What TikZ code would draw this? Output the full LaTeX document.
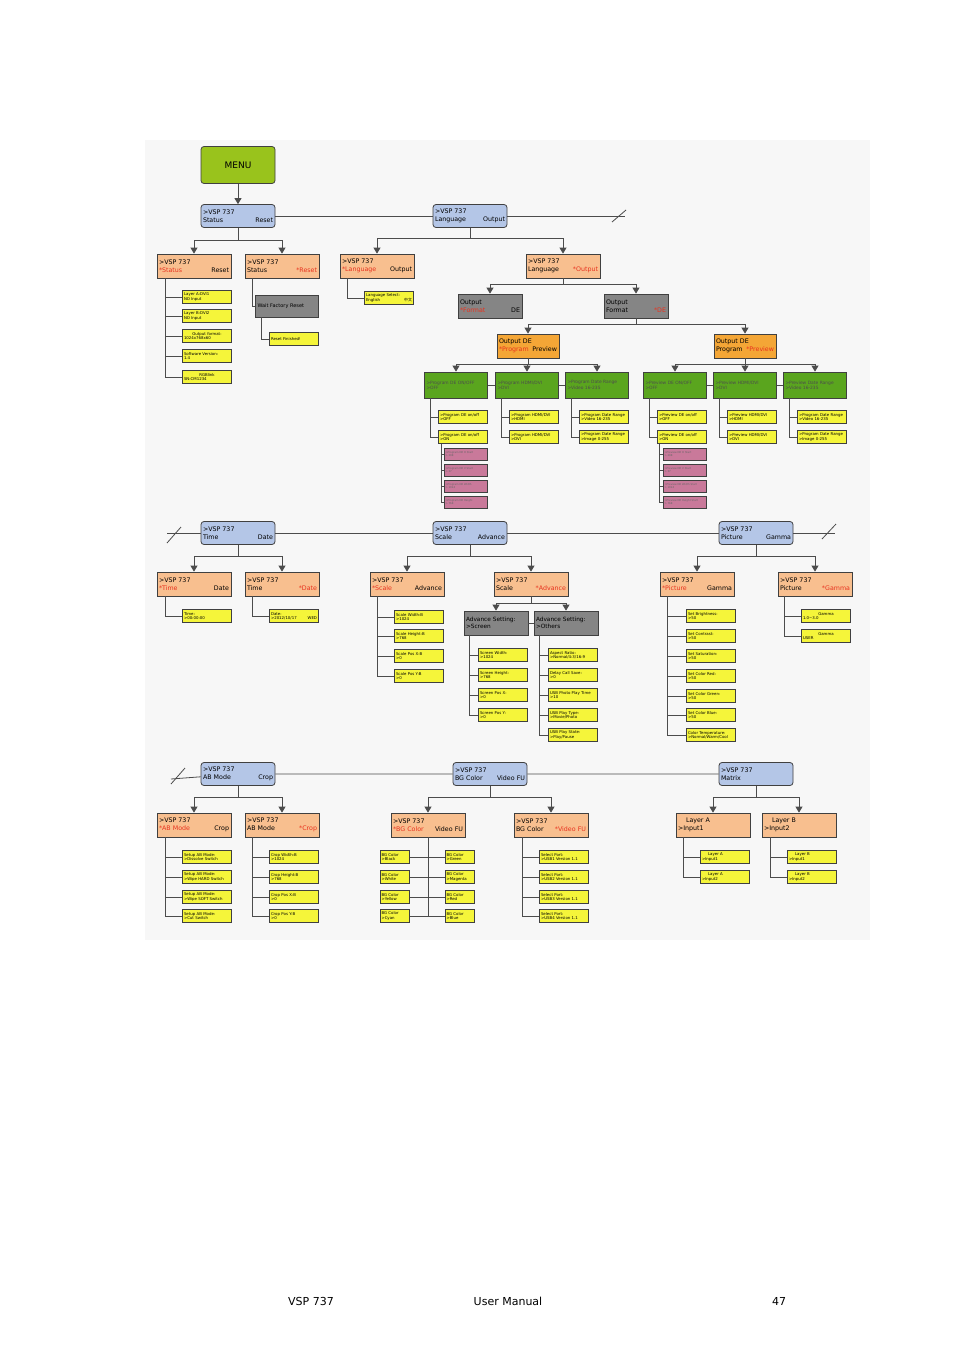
\documentclass[tikz,border=0pt]{standalone}
\usepackage{fontspec}
\setmainfont{DejaVu Sans}
\newfontfamily\cjk{Noto Sans CJK SC}
\usetikzlibrary{arrows.meta}
\definecolor{menugreen}{HTML}{99C31C}
\definecolor{menublue}{HTML}{B4C6E7}
\definecolor{salmon}{HTML}{F8BF8F}
\definecolor{boxgrey}{HTML}{858585}
\definecolor{deorange}{HTML}{F4A636}
\definecolor{degreen}{HTML}{5AA51E}
\definecolor{lcdyellow}{HTML}{F5F53A}
\definecolor{pinkish}{HTML}{C9799A}
\definecolor{txtred}{HTML}{E8321E}
\newcommand{\rd}[1]{\textcolor{txtred}{#1}}
\tikzset{
  >={Triangle[width=7pt,length=6pt]},
  big/.style={draw=black!75, line width=0.8pt, align=left, inner sep=2pt, font=\fontsize{6.3}{7.6}\selectfont},
  menubox/.style={big, fill=menugreen, rounded corners=3pt, minimum width=74pt, minimum height=37pt, align=center, font=\fontsize{9}{10}\selectfont},
  bluebox/.style={big, fill=menublue, rounded corners=3pt, text width=70pt, minimum height=23pt},
  salbox/.style={big, fill=salmon, text width=70pt, minimum height=24pt},
  greybox/.style={big, fill=boxgrey, text width=60pt, minimum height=24pt},
  orbox/.style={big, fill=deorange, text width=58pt, minimum height=24pt},
  grbox/.style={big, fill=degreen, text width=59pt, minimum height=26pt, font=\fontsize{4.4}{5.2}\selectfont, text=black!70},
  ybox/.style={draw=black!75, line width=0.7pt, fill=lcdyellow, text width=46pt, minimum height=13pt, inner sep=1.3pt, align=left, font=\fontsize{3.9}{4.5}\selectfont},
  pbox/.style={draw=black!75, line width=0.7pt, fill=pinkish, text width=41pt, minimum height=12pt, inner sep=1.3pt, align=left, font=\fontsize{2.6}{3.1}\selectfont, text=black!60},
  tline/.style={draw=black!70, line width=0.8pt},
  arr/.style={tline, ->}
}
\begin{document}
\begin{tikzpicture}[x=1pt,y=-1pt]
  \useasboundingbox (0,0) rectangle (954,1350);
  \fill[black!3] (145,140) rectangle (870,940);
  % top row
  \node[menubox] (menu) at (238,165) {MENU};
  \node[bluebox] (status) at (238,216) {>VSP 737\\*Status\hfill Reset};
  \node[bluebox] (lang) at (470,216) {>VSP 737\\*Language\hfill Output};
  \coordinate (end1) at (625,216);
  \draw[arr] (menu) -- (status);
  \draw[tline] (status) -- (lang) -- (end1);
  \draw[tline] (612,222) -- (626,210);
  \node[salbox] (st1) at (194,266) {>VSP 737\\\rd{*Status}\hfill Reset};
  \node[salbox] (st2) at (282,266) {>VSP 737\\Status\hfill\rd{*Reset}};
  \node[salbox] (la1) at (377,266) {>VSP 737\\\rd{*Language}\hfill Output};
  \node[salbox] (la2) at (563,266) {>VSP 737\\Language\hfill\rd{*Output}};
  \draw[arr] (status.south) -- ++(0,12) -| (st1.north);
  \draw[arr] (status.south) -- ++(0,12) -| (st2.north);
  \draw[arr] (lang.south) -- ++(0,10) -| (la1.north);
  \draw[arr] (lang.south) -- ++(0,10) -| (la2.north);
  \foreach \y/\t [count=\i] in {297/{Layer A:DVI1\\NO Input}, 316/{Layer B:DVI2\\NO Input},
      336/{\centering Output format:\\1024x768x60}, 356/{Software Version:\\1.4}, 377/{\centering RGBlink\\SN:CM1234}} {
    \node[ybox] (sty\i) at (207,\y) {\t};
    \draw[tline] (st1.south west) ++(9,0) |- (sty\i.west);
  }
  \node[greybox, text width=59pt, minimum height=22pt, font=\fontsize{5}{6}\selectfont] (wait) at (287,306) {Wait Factory Reset};
  \draw[tline] (st2.south west) ++(8,0) |- (wait.west);
  \node[ybox] (fin) at (294,339) {\centering Reset Finished!};
  \draw[tline] (wait.south west) ++(6,0) |- (fin.west);
  \node[ybox] (lsel) at (389,298) {Language Select:\\*English\hfill{\cjk 中文}\hspace*{8pt}};
  \draw[tline] (la1.south west) ++(8,0) |- (lsel.west);
  % output DE
  \node[greybox] (fmt1) at (490,306) {Output\\\rd{*Format}\hfill DE\hspace*{8pt}};
  \node[greybox] (fmt2) at (636,306) {Output\\Format\hfill\rd{*DE}\hspace*{4pt}};
  \draw[arr] (la2.south) -- ++(0,6) -| (fmt1.north);
  \draw[arr] (la2.south) -- ++(0,6) -| (fmt2.north);
  \node[orbox] (prg) at (528,346) {Output DE\\\rd{*Program}\hfill Preview};
  \node[orbox] (prv) at (745,346) {Output DE\\Program\hfill\rd{*Preview}};
  \draw[arr] (fmt2.south) -- ++(0,6) -| (prg.north);
  \draw[arr] (fmt2.south) -- ++(0,6) -| (prv.north);
  \node[grbox] (g1) at (456,385) {>Program DE ON/OFF\\>OFF};
  \node[grbox] (g2) at (527,385) {>Program HDMI/DVI\\>DVI};
  \node[grbox] (g3) at (597,385) {>Program Date Range\\>Video 16-235};
  \node[grbox] (g4) at (675,385) {>Preview DE ON/OFF\\>OFF};
  \node[grbox] (g5) at (745,385) {>Preview HDMI/DVI\\>DVI};
  \node[grbox] (g6) at (815,385) {>Preview Date Range\\>Video 16-235};
  \foreach \a/\b in {g1/g2, g2/g3, g4/g5, g5/g6} \draw[tline] (\a.east) -- (\b.west);
  \foreach \c in {g1,g2,g3} \draw[arr] (prg.south) -- ++(0,6) -| (\c.north);
  \foreach \c in {g4,g5,g6} \draw[arr] (prv.south) -- ++(0,6) -| (\c.north);
  \foreach \g/\x/\ta/\tb in {g1/463/{>Program DE on/off\\>OFF}/{>Program DE on/off\\>ON},
      g2/534/{>Program HDMI/DVI\\>HDMI}/{>Program HDMI/DVI\\>DVI},
      g3/604/{>Program Date Range\\>Video 16-235}/{>Program Date Range\\>Image 0-255},
      g4/682/{>Preview DE on/off\\>OFF}/{>Preview DE on/off\\>ON},
      g5/752/{>Preview HDMI/DVI\\>HDMI}/{>Preview HDMI/DVI\\>DVI},
      g6/822/{>Program Date Range\\>Video 16-235}/{>Program Date Range\\>Image 0-255}} {
    \node[ybox] (\g a) at (\x,417) {\ta};
    \node[ybox] (\g b) at (\x,437) {\tb};
    \draw[tline] (\g.south west) ++(6,0) |- (\g a.west);
    \draw[tline] (\g.south west) ++(6,0) |- (\g b.west);
  }
  \foreach \y/\t [count=\i] in {454/{>Program DE H Start\\> 298}, 470/{>Program DE V Start\\> 37},
      486/{>Program DE Width\\> 1024}, 502/{>Program DE Height\\> 768}} {
    \node[pbox] (pp\i) at (466,\y) {\t};
    \draw[tline] (g1b.south west) ++(3,0) |- (pp\i.west);
  }
  \foreach \y/\t [count=\i] in {454/{>Preview DE H Start\\> 298}, 470/{>Preview DE V Start\\> 37},
      486/{>Preview DE Width Start\\> 1024}, 502/{>Preview DE Height Start\\> 768}} {
    \node[pbox] (pv\i) at (685,\y) {\t};
    \draw[tline] (g4b.south west) ++(2,0) |- (pv\i.west);
  }
  % second row
  \coordinate (beg2) at (167,533);
  \coordinate (end2) at (835,533);
  \node[bluebox] (time) at (238,533) {>VSP 737\\*Time\hfill Date};
  \node[bluebox] (scale) at (470,533) {>VSP 737\\*Scale\hfill Advance};
  \node[bluebox] (pict) at (756,533) {>VSP 737\\*Picture\hfill Gamma};
  \draw[tline] (beg2) -- (time) -- (scale) -- (pict) -- (end2);
  \draw[tline] (167,543) -- (181,527);
  \draw[tline] (822,539) -- (836,524);
  \node[salbox] (ti1) at (194,584) {>VSP 737\\\rd{*Time}\hfill Date};
  \node[salbox] (ti2) at (282,584) {>VSP 737\\Time\hfill\rd{*Date}};
  \node[salbox] (sc1) at (407,584) {>VSP 737\\\rd{*Scale}\hfill Advance};
  \node[salbox] (sc2) at (531,584) {>VSP 737\\Scale\hfill\rd{*Advance}};
  \node[salbox] (pi1) at (697,584) {>VSP 737\\\rd{*Picture}\hfill Gamma};
  \node[salbox] (pi2) at (815,584) {>VSP 737\\Picture\hfill\rd{*Gamma}};
  \foreach \p/\c in {time/ti1, time/ti2, scale/sc1, scale/sc2, pict/pi1, pict/pi2}
    \draw[arr] (\p.south) -- ++(0,11) -| (\c.north);
  \node[ybox] (tiy) at (207,616) {Time:\\>00:00:00};
  \node[ybox] (day) at (294,616) {Date:\\>2012/10/17\hfill WED};
  \draw[tline] (ti1.south west) ++(9,0) |- (tiy.west);
  \draw[tline] (ti2.south west) ++(8,0) |- (day.west);
  \foreach \y/\t [count=\i] in {617/{Scale Width:B\\>1024}, 636/{Scale Height:B\\>768},
      656/{Scale Pos X:B\\>0}, 676/{Scale Pos Y:B\\>0}} {
    \node[ybox] (scy\i) at (419,\y) {\t};
    \draw[tline] (sc1.south west) ++(8,0) |- (scy\i.west);
  }
  \node[greybox, minimum height=24pt, font=\fontsize{5.8}{7}\selectfont] (scr) at (496,623) {Advance Setting:\\>Screen};
  \node[greybox, minimum height=24pt, font=\fontsize{5.8}{7}\selectfont] (oth) at (566,623) {Advance Setting:\\>Others};
  \draw[tline] (scr) -- (oth);
  \draw[arr] (sc2.south) -- ++(0,7) -| (scr.north);
  \draw[arr] (sc2.south) -- ++(0,7) -| (oth.north);
  \foreach \y/\t [count=\i] in {655/{Screen Width:\\>1024}, 675/{Screen Height:\\>768},
      695/{Screen Pos X:\\>0}, 715/{Screen Pos Y:\\>0}} {
    \node[ybox] (sry\i) at (503,\y) {\t};
    \draw[tline] (scr.south west) ++(6,0) |- (sry\i.west);
  }
  \foreach \y/\t [count=\i] in {655/{Aspect Ratio:\\>Normal/4:3/16:9}, 675/{Delay Call Save:\\>0},
      695/{USB Photo Play Time\\>10}, 715/{USB Play Type:\\>Movie/Photo}, 735/{USB Play State:\\>Play/Pause}} {
    \node[ybox] (oty\i) at (573,\y) {\t};
    \draw[tline] (oth.south west) ++(6,0) |- (oty\i.west);
  }
  \foreach \y/\t [count=\i] in {616/{Set Brightness:\\>50}, 636/{Set Contrast:\\>50}, 656/{Set Saturation:\\>50},
      676/{Set Color Red:\\>50}, 696/{Set Color Green:\\>50}, 715/{Set Color Blue:\\>50},
      735/{Color Temperature:\\>Normal/Warm/Cool}} {
    \node[ybox] (piy\i) at (711,\y) {\t};
    \draw[tline] (pi1.south west) ++(8,0) |- (piy\i.west);
  }
  \foreach \y/\t [count=\i] in {616/{\centering Gamma\\*1.0\textasciitilde3.0}, 636/{\centering Gamma\\*USER}} {
    \node[ybox] (gay\i) at (826,\y) {\t};
    \draw[tline] (pi2.south west) ++(7,0) |- (gay\i.west);
  }
  % third row
  \coordinate (beg3) at (171,779);
  \node[bluebox] (abm) at (238,774) {>VSP 737\\*AB Mode\hfill Crop};
  \node[bluebox] (bgc) at (490,774) {>VSP 737\\*BG Color\hfill Video FU};
  \node[bluebox] (mtx) at (756,774) {>VSP 737\\*Matrix};
  \draw[tline] (beg3) -- (abm) -- (bgc) -- (mtx);
  \draw[tline] (171,784) -- (185,768);
  \node[salbox] (ab1) at (194,825) {>VSP 737\\\rd{*AB Mode}\hfill Crop};
  \node[salbox] (ab2) at (282,825) {>VSP 737\\AB Mode\hfill\rd{*Crop}};
  \node[salbox] (bg1) at (428,825) {>VSP 737\\\rd{*BG Color}\hfill Video FU};
  \node[salbox] (bg2) at (551,825) {>VSP 737\\BG Color\hfill\rd{*Video FU}};
  \node[salbox] (mx1) at (713,825) {\hspace*{8pt}Layer A\\>Input1};
  \node[salbox] (mx2) at (799,825) {\hspace*{8pt}Layer B\\>Input2};
  \foreach \p/\c in {abm/ab1, abm/ab2, bgc/bg1, bgc/bg2, mtx/mx1, mtx/mx2}
    \draw[arr] (\p.south) -- ++(0,11) -| (\c.north);
  \foreach \y/\t [count=\i] in {857/{Setup AB Mode:\\>Dissolve Switch}, 877/{Setup AB Mode:\\>Wipe HARD Switch},
      897/{Setup AB Mode:\\>Wipe SOFT Switch}, 916/{Setup AB Mode:\\>Cut Switch}} {
    \node[ybox] (aby\i) at (207,\y) {\t};
    \draw[tline] (ab1.south west) ++(9,0) |- (aby\i.west);
  }
  \foreach \y/\t [count=\i] in {857/{Crop Width:B\\>1024}, 877/{Crop Height:B\\>768},
      897/{Crop Pos X:B\\>0}, 916/{Crop Pos Y:B\\>0}} {
    \node[ybox] (cry\i) at (294,\y) {\t};
    \draw[tline] (ab2.south west) ++(8,0) |- (cry\i.west);
  }
  \foreach \y/\l/\r [count=\i] in {857/Black/Green, 877/White/Magenta, 897/Yellow/Red, 916/Cyan/Blue} {
    \node[ybox, text width=27pt] (bgl\i) at (395,\y) {BG Color\\>\l};
    \node[ybox, text width=27pt] (bgr\i) at (460,\y) {BG Color\\>\r};
    \draw[tline] (bg1.south) |- (bgl\i.east);
    \draw[tline] (bg1.south) |- (bgr\i.west);
  }
  \foreach \y [count=\i] in {857,877,897,916} {
    \node[ybox] (usb\i) at (564,\y) {Select Port:\\>USB\i\ Version 1.1};
    \draw[tline] (bg2.south west) ++(9,0) |- (usb\i.west);
  }
  \foreach \y/\n [count=\i] in {857/1, 877/2} {
    \node[ybox] (lay\i) at (725,\y) {\hspace*{6pt}Layer A\\>Input\n};
    \draw[tline] (mx1.south west) ++(8,0) |- (lay\i.west);
    \node[ybox] (lby\i) at (812,\y) {\hspace*{6pt}Layer B\\>Input\n};
    \draw[tline] (mx2.south west) ++(9,0) |- (lby\i.west);
  }
  % footer
  \node[font=\fontsize{11}{13}\selectfont] (ft1) at (311,1301) {VSP 737};
  \node[font=\fontsize{11}{13}\selectfont] (ft2) at (508,1301) {User Manual};
  \node[font=\fontsize{11}{13}\selectfont] (ft3) at (779,1301) {47};
\end{tikzpicture}
\end{document}
